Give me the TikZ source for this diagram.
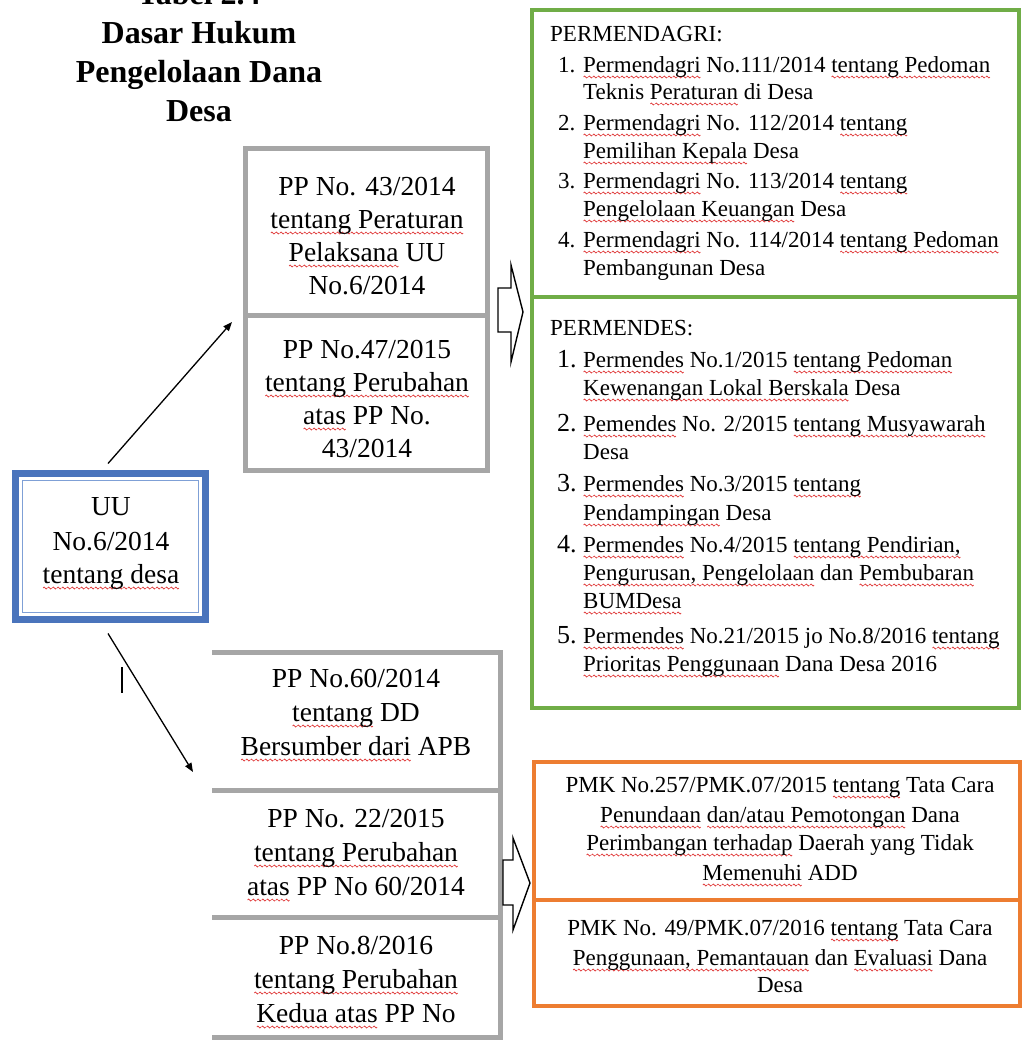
\documentclass[tikz,border=0pt]{standalone}
\usepackage{fontspec}
\setmainfont{Liberation Serif}
\usetikzlibrary{arrows.meta}
\definecolor{uublue}{HTML}{4A74BC}
\definecolor{uuinner}{HTML}{7FA0D6}
\definecolor{grn}{HTML}{70AD47}
\definecolor{org}{HTML}{ED7D31}
\definecolor{gry}{HTML}{A6A6A6}
\definecolor{squig}{HTML}{E03535}
\newsavebox\wavebox
\sbox\wavebox{\tikz[x=1pt,y=1pt,baseline=0pt]\draw[squig,line width=0.7pt] (0,0) sin (1,1) cos (2,0) sin (3,-1) cos (4,0);}
\newcommand\sq[1]{\setbox0\hbox{#1}\rlap{\raisebox{-5pt}[0pt][0pt]{\hbox to\wd0{\xleaders\copy\wavebox\hfill}}}\box0\relax}
\tikzset{
  ttl/.style={font=\bfseries\fontsize{32}{39}\selectfont, anchor=base, inner sep=0},
  gtext/.style={font=\fontsize{27.5}{33}\selectfont, anchor=base, inner sep=0},
  ltext/.style={font=\fontsize{23}{28}\selectfont, anchor=base west, inner sep=0},
  bignum/.style={font=\fontsize{26}{28}\selectfont, anchor=base west, inner sep=0},
  otext/.style={font=\fontsize{23}{28}\selectfont, anchor=base, inner sep=0},
  conn/.style={line width=1.3pt, -{Triangle[length=9pt,width=7pt]}},
  hollow/.style={draw=black, line width=1.4pt, fill=white, line join=miter},
  gline/.style={draw=gry, line width=5pt},
  grline/.style={draw=grn, line width=4pt},
  orline/.style={draw=org, line width=4pt},
}
\begin{document}
\begin{tikzpicture}[x=1pt,y=-1pt]
\useasboundingbox (0,0) rectangle (1025,1047);
\clip (0,0) rectangle (1025,1047);
\fill[white] (0,0) rectangle (1025,1047);

% title
\node[ttl] (t0) at (199,4) {Tabel 2.4};
\node[ttl] (t1) at (199,43) {Dasar Hukum};
\node[ttl] (t2) at (199,82) {Pengelolaan Dana};
\node[ttl] (t3) at (199,121) {Desa};

% UU box
\node[draw=uublue, line width=7pt, minimum width=190pt, minimum height=146pt, inner sep=0] (uu) at (110.5,546.5) {};
\node[draw=uuinner, line width=1.8pt, minimum width=176pt, minimum height=132pt, inner sep=0] (uuin) at (110.5,546.5) {};
\node[gtext] (uu1) at (111,515) {UU};
\node[gtext] (uu2) at (111,550) {No.6/2014};
\node[gtext] (uu3) at (111,583) {\sq{tentang desa}};

% connectors from UU
\coordinate (upend) at (232,322);
\coordinate (downend) at (193,772);
\draw[conn] ([xshift=-2.5pt,yshift=6.5pt]uu.north) -- (upend);
\draw[conn] ([xshift=-2.5pt,yshift=-10.5pt]uu.south) -- (downend);
% cursor mark
\coordinate (cur1) at (122,667);
\coordinate (cur2) at (122,693);
\draw[line width=1.6pt] (cur1) -- (cur2);

% top gray boxes
\node[gline, minimum width=242pt, minimum height=167pt, inner sep=0] (pp1) at (366.5,231.5) {};
\node[gline, minimum width=242pt, minimum height=155.5pt, inner sep=0] (pp2) at (366.5,392.75) {};
\node[gtext] (pp1a) at (367,195) {PP No. 43/2014};
\node[gtext] (pp1b) at (367,228) {\sq{tentang Peraturan}};
\node[gtext] (pp1c) at (367,261) {\sq{Pelaksana} UU};
\node[gtext] (pp1d) at (367,294) {No.6/2014};
\node[gtext] (pp2a) at (367,358) {PP No.47/2015};
\node[gtext] (pp2b) at (367,391) {\sq{tentang Perubahan}};
\node[gtext] (pp2c) at (367,424) {\sq{atas} PP No.};
\node[gtext] (pp2d) at (367,457) {43/2014};

% bottom gray boxes (open on the left)
\draw[gline] (212,652) -- (500,652) -- (500,1037) -- (212,1037);
\draw[gline] (212,790) -- (500,790);
\draw[gline] (212,917) -- (500,917);
\node[gtext] (ppaa) at (356,687) {PP No.60/2014};
\node[gtext] (ppab) at (356,721) {\sq{tentang} DD};
\node[gtext] (ppac) at (356,755) {\sq{Bersumber dari} APB};
\node[gtext] (ppba) at (356,827) {PP No. 22/2015};
\node[gtext] (ppbb) at (356,861) {\sq{tentang Perubahan}};
\node[gtext] (ppbc) at (356,895) {\sq{atas} PP No 60/2014};
\node[gtext] (ppca) at (356,954) {PP No.8/2016};
\node[gtext] (ppcb) at (356,988) {\sq{tentang Perubahan}};
\node[gtext] (ppcc) at (356,1022) {\sq{Kedua atas} PP No};

% hollow arrows
\path[hollow] (498,288) -- (511,288) -- (511,265) -- (523,312) -- (511,362) -- (511,332) -- (498,332) -- cycle;
\path[hollow] (503,860) -- (513,860) -- (513,838) -- (530,883) -- (513,930) -- (513,905) -- (503,905) -- cycle;

% green box
\draw[grline] (532,10) rectangle (1019,708);
\draw[grline] (532,297) -- (1019,297);
\node[ltext] (pdh) at (550,41) {PERMENDAGRI:};
\node[ltext] (pd1n) at (558,72) {1.};
\node[ltext] (pd2n) at (558,130) {2.};
\node[ltext] (pd3n) at (558,188) {3.};
\node[ltext] (pd4n) at (558,247) {4.};
\node[ltext] (pd1a) at (583,72) {\sq{Permendagri} No.111/2014 \sq{tentang Pedoman}};
\node[ltext] (pd1b) at (583,99) {Teknis \sq{Peraturan} di Desa};
\node[ltext] (pd2a) at (583,130) {\sq{Permendagri} No. 112/2014 \sq{tentang}};
\node[ltext] (pd2b) at (583,158) {\sq{Pemilihan Kepala} Desa};
\node[ltext] (pd3a) at (583,188) {\sq{Permendagri} No. 113/2014 \sq{tentang}};
\node[ltext] (pd3b) at (583,216) {\sq{Pengelolaan Keuangan} Desa};
\node[ltext] (pd4a) at (583,247) {\sq{Permendagri} No. 114/2014 \sq{tentang Pedoman}};
\node[ltext] (pd4b) at (583,275) {Pembangunan Desa};

\node[ltext] (pmh) at (550,335) {PERMENDES:};
\node[bignum] (pm1n) at (557,367) {1.};
\node[bignum] (pm2n) at (557,431) {2.};
\node[bignum] (pm3n) at (557,491) {3.};
\node[bignum] (pm4n) at (557,552) {4.};
\node[bignum] (pm5n) at (557,643) {5.};
\node[ltext] (pm1a) at (583,367) {\sq{Permendes} No.1/2015 \sq{tentang Pedoman}};
\node[ltext] (pm1b) at (583,395) {\sq{Kewenangan Lokal Berskala} Desa};
\node[ltext] (pm2a) at (583,431) {\sq{Pemendes} No. 2/2015 \sq{tentang Musyawarah}};
\node[ltext] (pm2b) at (583,459) {Desa};
\node[ltext] (pm3a) at (583,491) {\sq{Permendes} No.3/2015 \sq{tentang}};
\node[ltext] (pm3b) at (583,520) {\sq{Pendampingan} Desa};
\node[ltext] (pm4a) at (583,552) {\sq{Permendes} No.4/2015 \sq{tentang Pendirian,}};
\node[ltext] (pm4b) at (583,580) {\sq{Pengurusan, Pengelolaan} dan \sq{Pembubaran}};
\node[ltext] (pm4c) at (583,608) {\sq{BUMDesa}};
\node[ltext] (pm5a) at (583,643) {\sq{Permendes} No.21/2015 jo No.8/2016 \sq{tentang}};
\node[ltext] (pm5b) at (583,671) {\sq{Prioritas Penggunaan} Dana Desa 2016};

% orange box
\draw[orline] (534,762) rectangle (1020,1006);
\draw[orline] (534,900) -- (1020,900);
\node[otext] (pk1a) at (780,792) {PMK No.257/PMK.07/2015 \sq{tentang} Tata Cara};
\node[otext] (pk1b) at (780,822) {\sq{Penundaan} \sq{dan/atau Pemotongan} Dana};
\node[otext] (pk1c) at (780,850) {\sq{Perimbangan terhadap} Daerah yang Tidak};
\node[otext] (pk1d) at (780,880) {\sq{Memenuhi} ADD};
\node[otext] (pk2a) at (780,935) {PMK No. 49/PMK.07/2016 \sq{tentang} Tata Cara};
\node[otext] (pk2b) at (780,965) {\sq{Penggunaan, Pemantauan} dan \sq{Evaluasi} Dana};
\node[otext] (pk2c) at (780,992) {Desa};
\end{tikzpicture}
\end{document}
